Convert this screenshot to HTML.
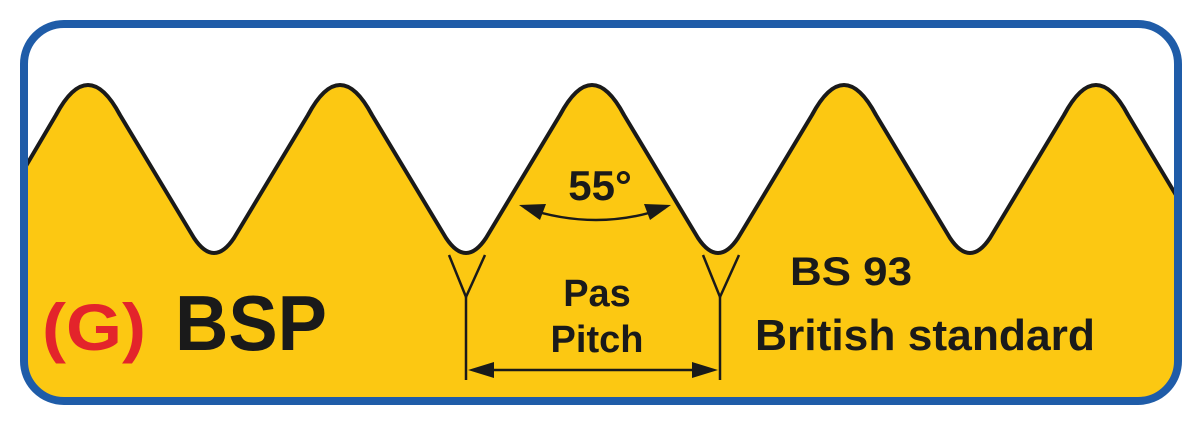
<!DOCTYPE html>
<html><head><meta charset="utf-8"><style>html,body{margin:0;padding:0;background:#fff;}svg{display:block}</style></head>
<body>
<svg width="1198" height="430" viewBox="0 0 1198 430" xmlns="http://www.w3.org/2000/svg" font-family="Liberation Sans, Arial, sans-serif" font-weight="bold">
<defs>
<clipPath id="c"><rect x="24" y="24" width="1154" height="377" rx="40"/></clipPath>
</defs>
<g clip-path="url(#c)">
<path d="M0,210 L56,115 Q88,55 120,115 L194,238 Q214,268 234,238 L308,115 Q340,55 372,115 L446,238 Q466,268 486,238 L560,115 Q592,55 624,115 L698,238 Q718,268 738,238 L812,115 Q844,55 876,115 L950,238 Q970,268 990,238 L1064,115 Q1096,55 1128,115 L1200,235 L1200,430 L0,430 Z" fill="#fcc812" stroke="#1a1a1a" stroke-width="4" stroke-linejoin="round"/>
</g>
<rect x="24" y="24" width="1154" height="377" rx="40" fill="none" stroke="#1f5ca8" stroke-width="8"/>
<g stroke="#1a1a1a" stroke-width="2.5" fill="none">
<path d="M449,255 L466,297 L485,255"/>
<path d="M703,255 L720,297 L739,255"/>
<line x1="466" y1="297" x2="466" y2="380"/>
<line x1="720" y1="297" x2="720" y2="380"/>
<line x1="480" y1="370" x2="706" y2="370"/>
<path d="M525,208 Q597,232 665,208"/>
</g>
<g fill="#1a1a1a">
<polygon points="468,370 494,362 494,378"/>
<polygon points="718,370 692,362 692,378"/>
<polygon points="519,205 546,204 540,220"/>
<polygon points="671,205 644,204 650,220"/>
</g>
<g fill="#1a1a1a">
<text x="600" y="200" font-size="42" text-anchor="middle">55°</text>
<text x="597" y="306" font-size="38" text-anchor="middle">Pas</text>
<text x="597" y="352" font-size="38" text-anchor="middle">Pitch</text>
<text x="790" y="285" font-size="40" textLength="122" lengthAdjust="spacingAndGlyphs">BS 93</text>
<text x="755" y="350" font-size="44" textLength="340" lengthAdjust="spacingAndGlyphs">British standard</text>
<text x="175" y="350" font-size="78" textLength="152" lengthAdjust="spacingAndGlyphs">BSP</text>
</g>
<text x="42" y="350" font-size="66" fill="#e3242b" textLength="104" lengthAdjust="spacingAndGlyphs">(G)</text>
</svg>
</body></html>
